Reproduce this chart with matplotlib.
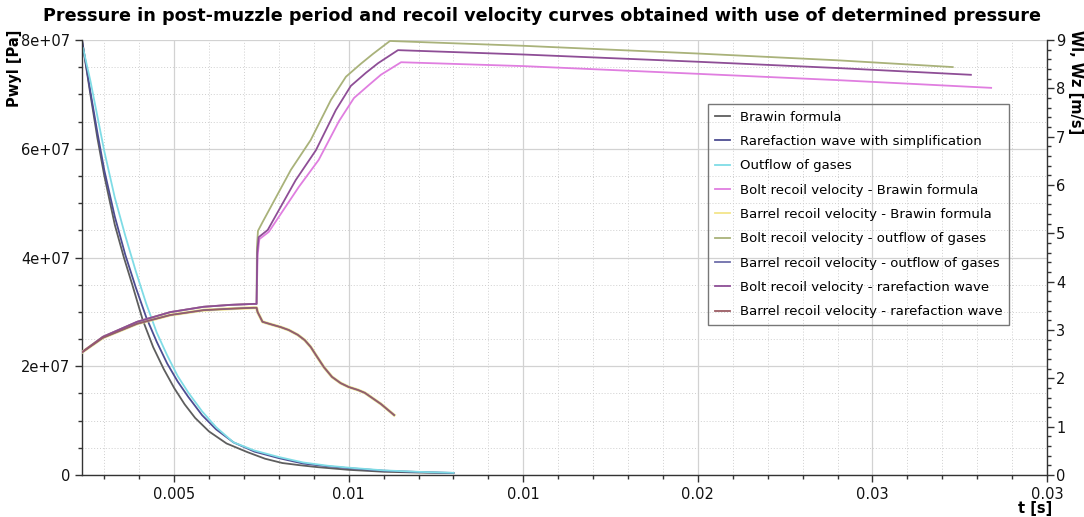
import matplotlib
matplotlib.use("Agg")
import matplotlib.pyplot as plt
from matplotlib.ticker import MultipleLocator, FixedLocator

# ---------------- data ----------------
title = "Pressure in post-muzzle period and recoil velocity curves obtained with use of determined pressure"
x_ticks = [0.005, 0.010, 0.015, 0.020, 0.025, 0.030]
x_tick_labels = ["0.005", "0.01", "0.01", "0.02", "0.03", "0.03"]
p_ticks = [0, 2e7, 4e7, 6e7, 8e7]
p_tick_labels = ["0", "2e+07", "4e+07", "6e+07", "8e+07"]

# pressure curves [s], [Pa]
t_brawin = [0.00236, 0.0026, 0.0028, 0.0030, 0.0033, 0.00356, 0.0038, 0.0041, 0.0044,
            0.0047, 0.0050, 0.0053, 0.0056, 0.0060, 0.0065, 0.0071, 0.0076, 0.0081,
            0.0086, 0.0091, 0.0100, 0.0110, 0.0120, 0.0130]
p_brawin = [8.0e7, 7.0e7, 6.2e7, 5.5e7, 4.6e7, 4.0e7, 3.5e7, 2.85e7, 2.35e7,
            1.95e7, 1.6e7, 1.3e7, 1.05e7, 8.0e6, 5.8e6, 4.2e6, 3.0e6, 2.2e6,
            1.8e6, 1.45e6, 0.95e6, 0.6e6, 0.45e6, 0.35e6]
t_raref = [0.00236, 0.0026, 0.0028, 0.0030, 0.0033, 0.0036, 0.0039, 0.0042, 0.0045,
           0.0048, 0.0051, 0.0054, 0.0058, 0.0062, 0.0067, 0.0073, 0.0080, 0.0087,
           0.0094, 0.0100, 0.0110, 0.0120, 0.0130]
p_raref = [8.0e7, 7.05e7, 6.3e7, 5.6e7, 4.75e7, 4.05e7, 3.45e7, 2.9e7, 2.45e7,
           2.05e7, 1.72e7, 1.44e7, 1.1e7, 8.4e6, 6.0e6, 4.3e6, 3.1e6, 2.1e6,
           1.6e6, 1.25e6, 0.8e6, 0.55e6, 0.38e6]
t_outflow = [0.00239, 0.0026, 0.0028, 0.0030, 0.0033, 0.0036, 0.0039, 0.0042, 0.0045,
             0.0048, 0.0051, 0.0054, 0.0058, 0.0062, 0.0067, 0.0073, 0.0080, 0.0087,
             0.0094, 0.0100, 0.0110, 0.0120, 0.0130]
p_outflow = [7.85e7, 7.25e7, 6.6e7, 5.95e7, 5.1e7, 4.4e7, 3.75e7, 3.15e7, 2.62e7,
             2.2e7, 1.82e7, 1.52e7, 1.17e7, 8.8e6, 6.0e6, 4.5e6, 3.3e6, 2.3e6,
             1.7e6, 1.35e6, 0.85e6, 0.58e6, 0.4e6]

# recoil velocities [s], [m/s]
t_pre = [0.00236, 0.00296, 0.00394, 0.00489, 0.00584, 0.00661, 0.00727, 0.00736]
v_pre_bolt = [2.54, 2.86, 3.17, 3.37, 3.48, 3.52, 3.54, 3.54]
v_pre_barrel = [2.54, 2.84, 3.13, 3.31, 3.41, 3.44, 3.46, 3.46]

t_barrel_post = [0.00739, 0.00753, 0.00776, 0.00805, 0.00828, 0.00854, 0.00874,
                 0.00891, 0.00908, 0.00929, 0.00952, 0.00977, 0.01000, 0.01026,
                 0.01046, 0.01064, 0.01092, 0.01130]
v_barrel_post = [3.37, 3.17, 3.12, 3.06, 3.00, 2.90, 2.79, 2.65, 2.46, 2.23,
                 2.03, 1.90, 1.82, 1.76, 1.70, 1.61, 1.47, 1.24]

t_bolt_out_post = [0.00737, 0.00740, 0.00753, 0.00834, 0.00891, 0.00949, 0.00992,
                   0.01035, 0.01069, 0.01118, 0.01500, 0.02000, 0.02400, 0.02730]
v_bolt_out_post = [4.70, 5.05, 5.23, 6.31, 6.93, 7.76, 8.24, 8.51, 8.71, 8.98,
                   8.88, 8.72, 8.58, 8.44]
t_bolt_rar_post = [0.00738, 0.00742, 0.00768, 0.00848, 0.00906, 0.00963, 0.01006,
                   0.01049, 0.01084, 0.01141, 0.01500, 0.02000, 0.02400, 0.02782]
v_bolt_rar_post = [4.60, 4.92, 5.07, 6.10, 6.72, 7.55, 8.05, 8.32, 8.52, 8.79,
                   8.70, 8.55, 8.42, 8.28]
t_bolt_bra_post = [0.00739, 0.00744, 0.00771, 0.00857, 0.00914, 0.00972, 0.01015,
                   0.01058, 0.01092, 0.01150, 0.01500, 0.02000, 0.02400, 0.02840]
v_bolt_bra_post = [4.55, 4.88, 5.03, 5.96, 6.52, 7.32, 7.80, 8.07, 8.28, 8.54,
                   8.46, 8.30, 8.17, 8.01]

c_brawin = "#5e5e5e"
c_raref = "#4d4d92"
c_outflow = "#7fdce6"
c_bolt_bra = "#e07ee0"
c_barrel_bra = "#f3e58a"
c_bolt_out = "#a9b27a"
c_barrel_out = "#6e6eaa"
c_bolt_rar = "#8e4e96"
c_barrel_rar = "#9b5c63"

# ---------------- figure ----------------
fig = plt.figure(figsize=(10.84, 5.17), dpi=100)
ax = fig.add_axes([82/1084, 1-475/517, (1047-82)/1084, (475-40)/517])
ax2 = ax.twinx()

lw = 1.3
h1, = ax.plot(t_brawin, p_brawin, color=c_brawin, lw=lw, label="Brawin formula")
h2, = ax.plot(t_raref, p_raref, color=c_raref, lw=lw, label="Rarefaction wave with simplification")
h3, = ax.plot(t_outflow, p_outflow, color=c_outflow, lw=lw, label="Outflow of gases")


def bolt(tp, vp):
    return t_pre + tp, v_pre_bolt + vp


tb = t_pre + t_barrel_post
vb = v_pre_barrel + v_barrel_post

h4, = ax2.plot(*bolt(t_bolt_bra_post, v_bolt_bra_post), color=c_bolt_bra, lw=lw,
               label="Bolt recoil velocity - Brawin formula")
h5, = ax2.plot(tb, vb, color=c_barrel_bra, lw=2.2, label="Barrel recoil velocity - Brawin formula")
h6, = ax2.plot(*bolt(t_bolt_out_post, v_bolt_out_post), color=c_bolt_out, lw=lw,
               label="Bolt recoil velocity - outflow of gases")
h7, = ax2.plot(tb, vb, color=c_barrel_out, lw=lw, label="Barrel recoil velocity - outflow of gases")
h8, = ax2.plot(*bolt(t_bolt_rar_post, v_bolt_rar_post), color=c_bolt_rar, lw=lw,
               label="Bolt recoil velocity - rarefaction wave")
h9, = ax2.plot(tb, vb, color=c_barrel_rar, lw=1.0, label="Barrel recoil velocity - rarefaction wave")

ax.set_xlim(0.00236, 0.0300)
ax.set_ylim(0, 8e7)
ax2.set_ylim(0, 9)

ax.xaxis.set_major_locator(FixedLocator(x_ticks))
ax.set_xticklabels(x_tick_labels)
ax.xaxis.set_minor_locator(MultipleLocator(0.001))
ax.yaxis.set_major_locator(FixedLocator(p_ticks))
ax.set_yticklabels(p_tick_labels)
ax.yaxis.set_minor_locator(MultipleLocator(5e6))
ax2.yaxis.set_major_locator(MultipleLocator(1))
ax2.yaxis.set_minor_locator(MultipleLocator(0.2))

ax.grid(which="major", color="#d2d2d2", lw=0.9, ls="-")
ax.grid(which="minor", color="#cfcfcf", lw=0.7, ls=(0, (1, 2)))
ax.set_axisbelow(True)

spine_c = "#333333"
for a in (ax, ax2):
    for s in a.spines.values():
        s.set_color(spine_c)
        s.set_linewidth(1.0)
    a.spines["top"].set_visible(False)
ax.spines["right"].set_visible(False)
ax2.spines["left"].set_visible(False)
ax2.spines["bottom"].set_visible(False)

tick_font = 10.5
ax.tick_params(axis="both", which="major", length=5, width=1, color=spine_c,
               labelsize=tick_font, labelcolor="#111111")
ax.tick_params(axis="both", which="minor", length=3, width=1, color=spine_c)
ax2.tick_params(axis="y", which="major", length=5, width=1, color=spine_c,
                labelsize=tick_font, labelcolor="#111111", pad=1.5)
ax2.tick_params(axis="y", which="minor", length=3, width=1, color=spine_c)

fig.text(0.5, 1-16/517, title, ha="center", va="center", fontsize=12.7,
         fontweight="bold")
fig.text(15/1084, 1-30/517, "Pwyl [Pa]", rotation=90, ha="center", va="top",
         fontsize=10.5, fontweight="bold")
fig.text(1075/1084, 1-30/517, "Wl, Wz [m/s]", rotation=-90, ha="center", va="top",
         fontsize=10.5, fontweight="bold")
fig.text(1035/1084, 1-508/517, "t [s]", ha="center", va="center",
         fontsize=10.5, fontweight="bold")

handles = [h1, h2, h3, h4, h5, h6, h7, h8, h9]
leg = ax2.legend(handles=handles, loc="upper left",
                 bbox_to_anchor=(708/1084, 1-104/517),
                 bbox_transform=fig.transFigure,
                 fontsize=9.5, frameon=True, fancybox=False,
                 edgecolor="#777777", handlelength=1.2, handletextpad=0.7,
                 labelspacing=0.86, borderpad=0.5, borderaxespad=0)
frame = leg.get_frame()
frame.set_facecolor("none")
frame.set_edgecolor("#777777")
frame.set_alpha(None)
frame.set_linewidth(1.0)
for line in leg.get_lines():
    line.set_linewidth(1.3)

fig.savefig("out.png", dpi=100)
